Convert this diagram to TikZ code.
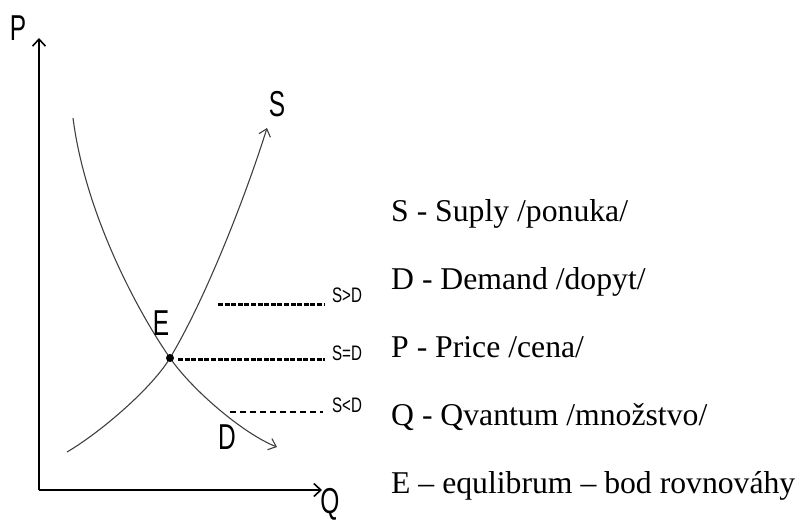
\documentclass[tikz,border=0pt]{standalone}
\usepackage{fontspec}
\setmainfont{Liberation Serif}
\newfontfamily\arialf{Liberation Sans}
\usetikzlibrary{arrows.meta}
\newcommand{\narrow}[2]{\scalebox{#1}[1]{#2}}
\tikzset{
  axisline/.style={line width=2pt, black, -{Straight Barb[length=7pt,width=13pt,line width=1.6pt]}},
  curveline/.style={line width=1.1pt, black!75, -{Straight Barb[length=7pt,width=12pt,line width=1.1pt]}},
  biglbl/.style={font=\arialf\fontsize{36}{40}\selectfont, inner sep=0pt},
  smalllbl/.style={font=\arialf\fontsize{21}{24}\selectfont, inner sep=0pt},
  legend/.style={font=\fontsize{31.7}{38}\selectfont, anchor=base west, inner sep=0pt},
  thickdash/.style={line width=3pt, dash pattern=on 5pt off 1.6pt},
  thindash/.style={line width=1.8pt, dash pattern=on 6pt off 4pt},
}
\begin{document}
\begin{tikzpicture}[x=1pt,y=-1pt]
\useasboundingbox (0,0) rectangle (801,523);
% axes
\coordinate (O) at (39,490);
\coordinate (Ptip) at (39,38);
\coordinate (Qtip) at (322,490);
\draw[axisline] (O) -- (Ptip);
\draw[axisline] (O) -- (Qtip);
\node[biglbl] (P) at (18,28) {\narrow{0.68}{P}};
\node[biglbl] (Q) at (330,504) {\narrow{0.68}{Q}};
% equilibrium
\coordinate (E) at (170,358);
\coordinate (Dstart) at (73,118);
\coordinate (Dend) at (277,447);
\coordinate (Sstart) at (67,452);
\coordinate (Send) at (267,128);
% demand curve
\draw[curveline] (Dstart) .. controls (85,212) and (136,309) .. (E)
  .. controls (193,391) and (244,434) .. (Dend);
% supply curve
\draw[curveline] (Sstart) .. controls (101,432) and (152,388) .. (E)
  .. controls (206,298) and (246,195) .. (Send);
\fill (E) circle (4pt);
\node[biglbl] (Slbl) at (277,104) {\narrow{0.68}{S}};
\node[biglbl] (Elbl) at (161,323) {\narrow{0.68}{E}};
\node[biglbl] (Dlbl) at (227,437) {\narrow{0.68}{D}};
% level lines
\coordinate (a1) at (218,304); \coordinate (a2) at (325,304);
\coordinate (b1) at (178,359); \coordinate (b2) at (325,359);
\coordinate (c1) at (230,412); \coordinate (c2) at (323,412);
\draw[thickdash] (a1) -- (a2);
\draw[thickdash] (b1) -- (b2);
\draw[thindash] (c1) -- (c2);
\node[smalllbl] (sgd) at (347,295) {\narrow{0.72}{S>D}};
\node[smalllbl] (sed) at (347,353) {\narrow{0.72}{S=D}};
\node[smalllbl] (sld) at (347,405) {\narrow{0.72}{S<D}};
% legend
\node[legend] (l1) at (391,221) {S - Suply /ponuka/};
\node[legend] (l2) at (391,289) {D - Demand /dopyt/};
\node[legend] (l3) at (391,357) {P - Price /cena/};
\node[legend] (l4) at (391,425) {Q - Qvantum /množstvo/};
\node[legend] (l5) at (391,493) {E – equlibrum – bod rovnováhy};
\end{tikzpicture}
\end{document}
